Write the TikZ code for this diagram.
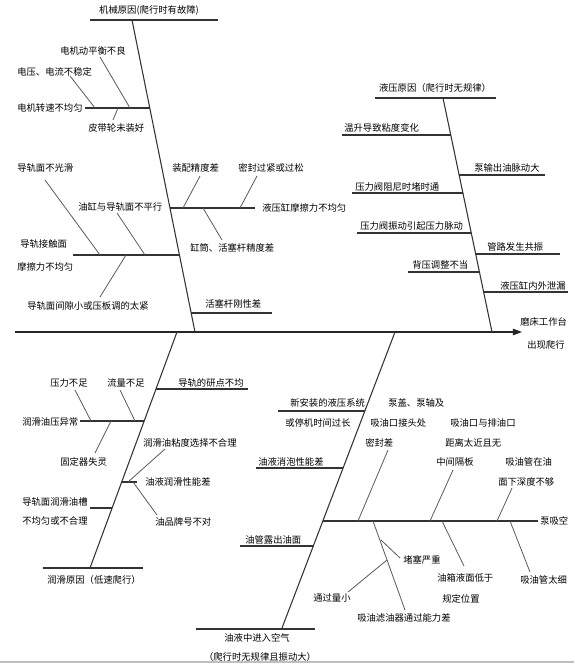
\documentclass[tikz,border=0pt]{standalone}
\usepackage{fontspec}
\newfontfamily\cjk{Noto Sans CJK SC}
\usetikzlibrary{arrows.meta,positioning}
\tikzset{
  >={Triangle[length=2.4mm,width=1.7mm]},
  cause/.style={font=\cjk\fontsize{7}{8}\selectfont,inner sep=0pt,anchor=west},
  title/.style={font=\cjk\fontsize{7}{8}\selectfont,inner sep=0pt},
  spine/.style={line width=0.9pt,black!85},
  bone/.style={line width=0.8pt,black!80},
  rib/.style={line width=0.6pt,black!65},
}
\begin{document}
\begin{tikzpicture}[x=0.75pt,y=-0.75pt]
  \useasboundingbox (0,0) rectangle (574,666);
  % ---- main spine ----
  \coordinate (s0) at (15,332);
  \coordinate (s1) at (522,332);
  \draw[spine,->] (s0) -- (s1);
  \node[cause] (eff1) at (520,322) {磨床工作台};
  \node[cause] (eff2) at (527,345) {出现爬行};
  \coordinate (pg0) at (0,662);
  \coordinate (pg1) at (574,662);
  \draw[black!25,line width=0.8pt] (pg0) -- (pg1);

  % ---- mechanical ----
  \coordinate (mh0) at (90,20); \coordinate (mh1) at (218,20);
  \draw[bone] (mh0) -- (mh1);
  \node[title] (mech) at (149,10) {机械原因(爬行时有故障)};
  \coordinate (ma) at (132,20); \coordinate (mb) at (195,332);
  \draw[bone] (ma) -- (mb);
  % motor speed
  \node[cause] (m1) at (17,108) {电机转速不均匀};
  \coordinate (m1a) at (85,108); \coordinate (m1b) at (150,108);
  \draw[bone] (m1a) -- (m1b);
  \node[cause] (m11) at (60,51) {电机动平衡不良};
  \coordinate (m11a) at (100,57); \coordinate (m11b) at (130,108);
  \draw[rib] (m11a) -- (m11b);
  \node[cause] (m12) at (17,72) {电压、电流不稳定};
  \coordinate (m12a) at (70,76); \coordinate (m12b) at (95,108);
  \draw[rib] (m12a) -- (m12b);
  \node[cause] (m13) at (88,128) {皮带轮未装好};
  \coordinate (m13a) at (113,120); \coordinate (m13b) at (118,108);
  \draw[rib] (m13a) -- (m13b);
  % guideway friction
  \node[cause] (m2) at (20,244) {导轨接触面};
  \node[cause] (m2x) at (17,267) {摩擦力不均匀};
  \coordinate (m2a) at (73,255); \coordinate (m2b) at (179,255);
  \draw[bone] (m2a) -- (m2b);
  \node[cause] (m21) at (17,168) {导轨面不光滑};
  \coordinate (m21a) at (45,180); \coordinate (m21b) at (100,255);
  \draw[rib] (m21a) -- (m21b);
  \node[cause] (m22) at (78,207) {油缸与导轨面不平行};
  \coordinate (m22a) at (117,213); \coordinate (m22b) at (145,255);
  \draw[rib] (m22a) -- (m22b);
  \node[cause] (m23) at (27,306) {导轨面间隙小或压板调的太紧};
  \coordinate (m23a) at (100,297); \coordinate (m23b) at (126,255);
  \draw[rib] (m23a) -- (m23b);
  % cylinder friction
  \node[cause] (m3) at (262,208) {液压缸摩擦力不均匀};
  \coordinate (m3a) at (170,208); \coordinate (m3b) at (255,208);
  \draw[bone] (m3a) -- (m3b);
  \node[cause] (m31) at (172,168) {装配精度差};
  \coordinate (m31a) at (200,176); \coordinate (m31b) at (183,208);
  \draw[rib] (m31a) -- (m31b);
  \node[cause] (m32) at (238,168) {密封过紧或过松};
  \coordinate (m32a) at (257,176); \coordinate (m32b) at (240,208);
  \draw[rib] (m32a) -- (m32b);
  \node[cause] (m33) at (190,248) {缸筒、活塞杆精度差};
  \coordinate (m33a) at (222,240); \coordinate (m33b) at (203,208);
  \draw[rib] (m33a) -- (m33b);
  % rod
  \node[cause] (m4) at (205,304) {活塞杆刚性差};
  \coordinate (m4a) at (191,313); \coordinate (m4b) at (272,313);
  \draw[bone] (m4a) -- (m4b);

  % ---- hydraulic ----
  \coordinate (hh0) at (375,98); \coordinate (hh1) at (496,98);
  \draw[bone] (hh0) -- (hh1);
  \node[title] (hyd) at (435,88) {液压原因（爬行时无规律）};
  \coordinate (ha) at (443,98); \coordinate (hb) at (492,332);
  \draw[bone] (ha) -- (hb);
  \node[cause] (h1) at (344,128) {温升导致粘度变化};
  \coordinate (h1a) at (342,135); \coordinate (h1b) at (451,135);
  \draw[bone] (h1a) -- (h1b);
  \node[cause] (h2) at (474,168) {泵输出油脉动大};
  \coordinate (h2a) at (459,175); \coordinate (h2b) at (545,175);
  \draw[bone] (h2a) -- (h2b);
  \node[cause] (h3) at (355,187) {压力阀阻尼时堵时通};
  \coordinate (h3a) at (352,193); \coordinate (h3b) at (463,193);
  \draw[bone] (h3a) -- (h3b);
  \node[cause] (h4) at (360,226) {压力阀振动引起压力脉动};
  \coordinate (h4a) at (357,233); \coordinate (h4b) at (471,233);
  \draw[bone] (h4a) -- (h4b);
  \node[cause] (h5) at (487,247) {管路发生共振};
  \coordinate (h5a) at (476,254); \coordinate (h5b) at (560,254);
  \draw[bone] (h5a) -- (h5b);
  \node[cause] (h6) at (412,265) {背压调整不当};
  \coordinate (h6a) at (408,272); \coordinate (h6b) at (479,272);
  \draw[bone] (h6a) -- (h6b);
  \node[cause] (h7) at (500,286) {液压缸内外泄漏};
  \coordinate (h7a) at (484,292); \coordinate (h7b) at (568,292);
  \draw[bone] (h7a) -- (h7b);

  % ---- lubrication ----
  \coordinate (la) at (177,332); \coordinate (lb) at (90,568);
  \draw[bone] (la) -- (lb);
  \coordinate (lh0) at (43,568); \coordinate (lh1) at (143,568);
  \draw[bone] (lh0) -- (lh1);
  \node[title] (lub) at (94,580) {润滑原因（低速爬行）};
  \node[cause] (l1) at (178,383) {导轨的研点不均};
  \coordinate (l1a) at (156,389); \coordinate (l1b) at (248,389);
  \draw[bone] (l1a) -- (l1b);
  % oil pressure
  \node[cause] (l2) at (22,422) {润滑油压异常};
  \coordinate (l2a) at (80,421); \coordinate (l2b) at (144,421);
  \draw[bone] (l2a) -- (l2b);
  \node[cause] (l21) at (50,383) {压力不足};
  \coordinate (l21a) at (75,390); \coordinate (l21b) at (91,421);
  \draw[rib] (l21a) -- (l21b);
  \node[cause] (l22) at (107,383) {流量不足};
  \coordinate (l22a) at (120,390); \coordinate (l22b) at (135,421);
  \draw[rib] (l22a) -- (l22b);
  \node[cause] (l23) at (60,462) {固定器失灵};
  \coordinate (l23a) at (95,453); \coordinate (l23b) at (111,421);
  \draw[rib] (l23a) -- (l23b);
  % lubricity
  \node[cause] (l3) at (145,482) {油液润滑性能差};
  \coordinate (l3a) at (122,482); \coordinate (l3b) at (137,482);
  \draw[bone] (l3a) -- (l3b);
  \node[cause] (l31) at (143,443) {润滑油粘度选择不合理};
  \coordinate (l31a) at (165,449); \coordinate (l31b) at (128,482);
  \draw[rib] (l31a) -- (l31b);
  \node[cause] (l32) at (155,522) {油品牌号不对};
  \coordinate (l32a) at (133,482); \coordinate (l32b) at (157,515);
  \draw[rib] (l32a) -- (l32b);
  % grooves
  \node[cause] (l4) at (22,502) {导轨面润滑油槽};
  \node[cause] (l4x) at (22,521) {不均匀或不合理};
  \coordinate (l4a) at (90,508); \coordinate (l4b) at (112,508);
  \draw[bone] (l4a) -- (l4b);

  % ---- air in oil ----
  \coordinate (aa) at (395,332); \coordinate (ab) at (282,628);
  \draw[bone] (aa) -- (ab);
  \coordinate (ah0) at (196,629); \coordinate (ah1) at (315,629);
  \draw[bone] (ah0) -- (ah1);
  \node[title] (air) at (257,638) {油液中进入空气};
  \node[title] (airx) at (260,657) {（爬行时无规律且振动大）};
  \node[cause] (a1) at (290,403) {新安装的液压系统};
  \node[cause] (a1x) at (285,423) {或停机时间过长};
  \coordinate (a1a) at (278,411); \coordinate (a1b) at (365,411);
  \draw[bone] (a1a) -- (a1b);
  \node[cause] (a2) at (258,462) {油液消泡性能差};
  \coordinate (a2a) at (256,468); \coordinate (a2b) at (343,468);
  \draw[bone] (a2a) -- (a2b);
  \node[cause] (a3) at (245,540) {油管露出油面};
  \coordinate (a3a) at (240,546); \coordinate (a3b) at (314,546);
  \draw[bone] (a3a) -- (a3b);
  % pump suction
  \node[cause] (a4) at (540,521) {泵吸空};
  \coordinate (a4a) at (323,521); \coordinate (a4b) at (538,521);
  \draw[bone] (a4a) -- (a4b);
  \node[cause] (a41) at (388,403) {泵盖、泵轴及};
  \node[cause] (a41x) at (370,423) {吸油口接头处};
  \node[cause] (a41y) at (365,443) {密封差};
  \coordinate (a41a) at (388,450); \coordinate (a41b) at (358,521);
  \draw[rib] (a41a) -- (a41b);
  \node[cause] (a42) at (450,423) {吸油口与排油口};
  \node[cause] (a42x) at (445,443) {距离太近且无};
  \node[cause] (a42y) at (436,462) {中间隔板};
  \coordinate (a42a) at (453,470); \coordinate (a42b) at (430,521);
  \draw[rib] (a42a) -- (a42b);
  \node[cause] (a43) at (505,462) {吸油管在油};
  \node[cause] (a43x) at (498,482) {面下深度不够};
  \coordinate (a43a) at (512,488); \coordinate (a43b) at (497,521);
  \draw[rib] (a43a) -- (a43b);
  \node[cause] (a44) at (357,618) {吸油滤油器通过能力差};
  \coordinate (a44a) at (373,521); \coordinate (a44b) at (405,610);
  \draw[rib] (a44a) -- (a44b);
  \node[cause] (a441) at (403,560) {堵塞严重};
  \coordinate (a441a) at (381,540); \coordinate (a441b) at (400,558);
  \draw[rib] (a441a) -- (a441b);
  \node[cause] (a442) at (313,598) {通过量小};
  \coordinate (a442a) at (348,592); \coordinate (a442b) at (387,560);
  \draw[rib] (a442a) -- (a442b);
  \node[cause] (a45) at (437,578) {油箱液面低于};
  \node[cause] (a45x) at (442,599) {规定位置};
  \coordinate (a45a) at (442,521); \coordinate (a45b) at (464,566);
  \draw[rib] (a45a) -- (a45b);
  \node[cause] (a46) at (520,580) {吸油管太细};
  \coordinate (a46a) at (510,521); \coordinate (a46b) at (530,572);
  \draw[rib] (a46a) -- (a46b);
\end{tikzpicture}
\end{document}
